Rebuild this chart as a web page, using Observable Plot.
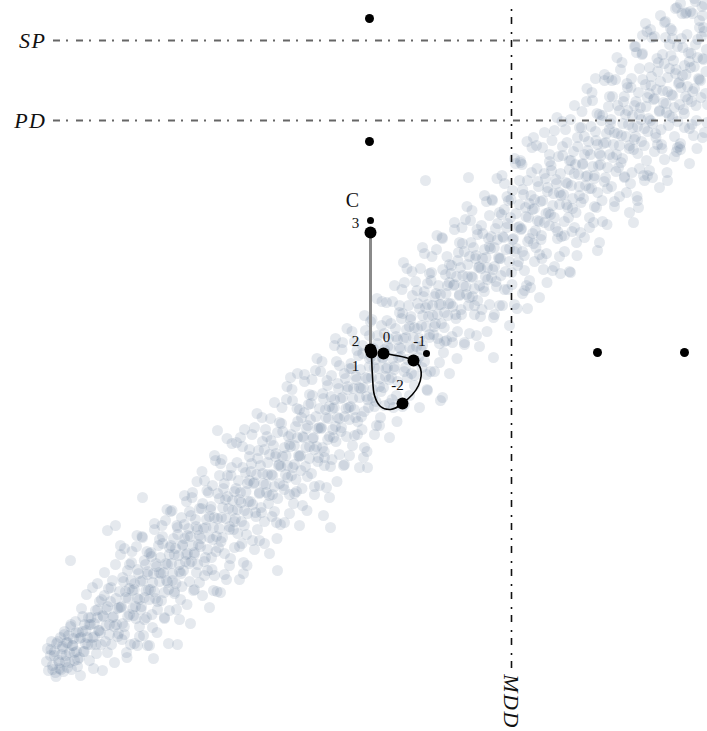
<!DOCTYPE html>
<html>
<head>
<meta charset="utf-8">
<script src="https://cdn.jsdelivr.net/npm/d3@7"></script>
<script src="https://cdn.jsdelivr.net/npm/@observablehq/plot@0.6"></script>
<style>
  html, body { margin: 0; padding: 0; background: #fff; }
  #chart svg { display: block; }
</style>
</head>
<body>
<div id="chart"></div>
<script>
// Population cloud: "x,y" pairs (x = first score, y = second score)
const cloudPoints = `
4.6,7.0 4.7,8.3 4.8,6.1 5.0,7.6 5.1,9.0 5.2,6.6 5.4,8.0 5.5,5.9 5.6,8.8 5.8,7.1 5.9,6.3
6.0,9.4 6.1,7.7 6.2,8.5 6.3,6.0 6.4,10.0 6.5,7.0 6.6,8.9 6.7,6.4 6.8,9.6 6.9,7.9
7.0,10.5 7.1,6.2 7.2,8.6 7.3,9.3 7.4,7.1 7.5,11.0 7.6,8.0 7.7,6.5 7.8,9.9 7.9,7.4
8.0,5.6 8.1,12.3 8.2,10.0 8.3,8.0 8.4,10.7 8.5,8.8 8.6,13.7 8.7,9.4 8.8,11.4 8.9,7.1
9.0,10.7 9.1,8.7 9.2,14.4 9.3,6.3 9.4,9.5 9.5,12.1 9.6,7.8 9.7,11.4 9.8,10.1 9.9,13.0
10.0,9.9 10.1,13.2 10.2,6.1 10.3,11.5 10.4,15.9 10.5,9.0 10.6,12.2 10.7,7.9 10.8,14.3 10.9,10.7
11.0,13.0 11.1,8.7 11.2,15.1 11.3,11.5 11.4,6.9 11.5,16.7 11.6,10.7 11.7,12.3 11.8,9.8 11.9,14.0
12.0,17.7 12.1,12.5 12.2,10.8 12.3,15.0 12.4,9.7 12.5,14.0 12.6,7.9 12.7,16.1 12.8,13.3 12.9,11.7
13.0,8.7 13.1,16.9 13.2,14.1 13.3,11.6 13.4,14.8 13.5,12.5 13.6,18.5 13.7,13.3 13.8,15.8 13.9,10.5
14.0,15.0 14.1,12.5 14.2,19.4 14.3,9.6 14.4,13.4 14.5,16.7 14.6,11.4 14.7,15.7 14.8,14.2 14.9,17.8
15.0,14.2 15.1,17.5 15.2,10.4 15.3,15.8 15.4,20.2 15.5,13.3 15.6,16.5 15.7,12.2 15.8,18.6 15.9,15.0
16.0,17.4 16.1,13.1 16.2,19.5 16.3,15.9 16.4,11.3 16.5,21.1 16.6,15.1 16.7,16.7 16.8,14.2 16.9,18.4
17.0,22.0 17.1,16.8 17.2,15.1 17.3,19.3 17.4,14.0 17.5,18.3 17.6,12.2 17.7,20.4 17.8,17.6 17.9,16.0
18.0,13.2 18.1,21.4 18.2,18.6 18.3,16.1 18.4,19.3 18.5,17.0 18.6,23.0 18.7,17.8 18.8,20.3 18.9,15.0
19.0,19.5 19.1,17.0 19.2,23.9 19.3,14.1 19.4,17.9 19.5,21.2 19.6,15.9 19.7,20.2 19.8,18.7 19.9,22.3
20.0,18.5 20.1,22.3 20.2,13.6 20.3,20.3 20.4,25.1 20.5,17.4 20.6,21.2 20.7,16.1 20.8,23.9 20.9,19.4
21.0,22.2 21.1,17.4 21.2,24.6 21.3,20.4 21.4,15.6 21.5,27.1 21.6,19.5 21.7,21.3 21.8,18.4 21.9,23.3
22.0,26.8 22.1,21.4 22.2,19.4 22.3,24.3 22.4,17.8 22.5,23.2 22.6,15.2 22.7,25.6 22.8,22.3 22.9,20.5
23.0,17.3 23.1,26.4 23.2,23.1 23.3,20.2 23.4,24.0 23.5,21.3 23.6,28.9 23.7,22.2 23.8,25.1 23.9,18.5
24.0,23.9 24.1,21.0 24.2,28.5 24.3,16.9 24.4,22.1 24.5,25.9 24.6,19.7 24.7,24.8 24.8,23.0 24.9,27.5
25.0,23.0 25.1,26.8 25.2,19.1 25.3,24.8 25.4,30.4 25.5,21.9 25.6,25.7 25.7,20.2 25.8,28.1 25.9,23.9
26.0,26.6 26.1,21.9 26.2,29.0 26.3,24.8 26.4,18.8 26.5,30.2 26.6,23.9 26.7,25.7 26.8,22.8 26.9,27.7
27.0,31.3 27.1,25.7 27.2,23.7 27.3,28.6 27.4,22.0 27.5,27.5 27.6,20.9 27.7,29.9 27.8,26.6 27.9,24.8
28.0,20.7 28.1,30.8 28.2,27.5 28.3,24.6 28.4,28.4 28.5,25.7 28.6,33.2 28.7,26.6 28.8,29.5 28.9,23.7
29.0,28.5 29.1,25.6 29.2,33.1 29.3,22.8 29.4,26.7 29.5,30.5 29.6,24.0 29.7,29.4 29.8,27.6 29.9,32.2
30.0,27.6 30.1,31.4 30.2,22.6 30.3,29.4 30.4,35.0 30.5,26.5 30.6,30.3 30.7,25.5 30.8,32.7 30.9,28.5
31.0,31.2 31.1,25.8 31.2,33.6 31.3,29.4 31.4,24.5 31.5,36.1 31.6,28.5 31.7,30.3 31.8,27.4 31.9,32.3
32.0,36.0 32.1,30.4 32.2,28.4 32.3,33.3 32.4,27.4 32.5,32.2 32.6,24.4 32.7,34.6 32.8,31.3 32.9,29.5
33.0,26.5 33.1,35.6 33.2,32.3 33.3,29.4 33.4,33.2 33.5,30.5 33.6,37.0 33.7,31.4 33.8,34.3 33.9,27.7
34.0,33.3 34.1,30.4 34.2,38.9 34.3,26.6 34.4,31.5 34.5,35.3 34.6,29.5 34.7,34.2 34.8,32.4 34.9,36.3
35.0,32.5 35.1,36.3 35.2,28.6 35.3,34.3 35.4,39.0 35.5,31.4 35.6,35.2 35.7,29.7 35.8,37.6 35.9,33.4
36.0,36.2 36.1,31.5 36.2,38.6 36.3,34.4 36.4,28.4 36.5,40.1 36.6,33.5 36.7,35.3 36.8,32.4 36.9,37.3
37.0,41.0 37.1,35.4 37.2,33.4 37.3,38.3 37.4,32.5 37.5,37.2 37.6,30.6 37.7,39.6 37.8,36.3 37.9,34.5
38.0,31.4 38.1,40.6 38.2,37.3 38.3,34.4 38.4,38.2 38.5,35.5 38.6,42.9 38.7,36.4 38.8,39.3 38.9,32.8
39.0,38.3 39.1,35.4 39.2,43.0 39.3,32.4 39.4,36.5 39.5,40.3 39.6,33.6 39.7,39.2 39.8,37.4 39.9,41.9
40.0,37.5 40.1,41.3 40.2,32.5 40.3,39.3 40.4,44.9 40.5,36.4 40.6,40.2 40.7,35.4 40.8,42.6 40.9,38.4
41.0,41.2 41.1,35.8 41.2,43.6 41.3,39.4 41.4,34.6 41.5,45.0 41.6,38.5 41.7,40.3 41.8,37.4 41.9,42.3
42.0,46.3 42.1,40.6 42.2,38.6 42.3,43.5 42.4,37.0 42.5,42.4 42.6,35.7 42.7,44.8 42.8,41.5 42.9,39.7
43.0,36.0 43.1,45.9 43.2,42.6 43.3,39.7 43.4,43.5 43.5,40.8 43.6,48.2 43.7,41.7 43.8,44.6 43.9,38.8
44.0,43.7 44.1,40.8 44.2,49.3 44.3,37.9 44.4,41.9 44.5,45.7 44.6,39.1 44.7,44.6 44.8,42.8 44.9,46.7
45.0,42.8 45.1,46.6 45.2,38.9 45.3,44.6 45.4,50.2 45.5,41.7 45.6,45.5 45.7,40.0 45.8,47.9 45.9,43.7
46.0,46.4 46.1,41.7 46.2,48.8 46.3,44.6 46.4,38.7 46.5,51.2 46.6,43.7 46.7,45.5 46.8,42.6 46.9,47.5
47.0,51.1 47.1,45.5 47.2,43.5 47.3,48.4 47.4,42.6 47.5,47.3 47.6,39.6 47.7,49.7 47.8,46.4 47.9,44.6
48.0,41.5 48.1,50.6 48.2,47.3 48.3,44.4 48.4,48.2 48.5,45.5 48.6,53.0 48.7,46.4 48.8,49.3 48.9,42.7
49.0,48.3 49.1,45.4 49.2,53.1 49.3,41.4 49.4,46.5 49.5,50.3 49.6,44.5 49.7,49.2 49.8,47.4 49.9,51.9
50.0,47.3 50.1,51.7 50.2,42.6 50.3,49.4 50.4,54.8 50.5,46.0 50.6,50.4 50.7,44.2 50.8,53.1 50.9,48.3
51.0,51.4 51.1,45.9 51.2,54.1 51.3,49.3 51.4,42.7 51.5,56.8 51.6,48.3 51.7,50.4 51.8,47.0 51.9,52.7
52.0,56.9 52.1,50.3 52.2,48.0 52.3,53.7 52.4,46.1 52.5,52.4 52.6,44.6 52.7,55.1 52.8,51.4 52.9,49.3
53.0,44.4 53.1,55.9 53.2,52.2 53.3,48.8 53.4,53.2 53.5,50.1 53.6,58.6 53.7,51.1 53.8,54.5 53.9,47.7
54.0,53.0 54.1,49.6 54.2,58.4 54.3,46.2 54.4,50.9 54.5,55.3 54.6,47.8 54.7,54.0 54.8,51.9 54.9,57.0
55.0,51.7 55.1,56.1 55.2,46.1 55.3,53.8 55.4,60.1 55.5,50.4 55.6,54.8 55.7,49.3 55.8,57.5 55.9,52.7
56.0,55.8 56.1,49.5 56.2,58.5 56.3,53.7 56.4,48.0 56.5,60.2 56.6,52.7 56.7,54.8 56.8,51.4 56.9,57.1
57.0,61.2 57.1,54.6 57.2,52.3 57.3,58.0 57.4,50.4 57.5,56.7 57.6,48.9 57.7,59.4 57.8,55.7 57.9,53.6
58.0,49.9 58.1,60.4 58.2,56.7 58.3,53.3 58.4,57.7 58.5,54.6 58.6,63.0 58.7,55.6 58.8,59.0 58.9,51.4
59.0,57.7 59.1,54.3 59.2,63.1 59.3,50.9 59.4,55.6 59.5,60.0 59.6,52.4 59.7,58.7 59.8,56.6 59.9,61.7
60.0,56.7 60.1,61.1 60.2,51.0 60.3,58.8 60.4,65.1 60.5,55.4 60.6,59.8 60.7,54.3 60.8,62.5 60.9,57.7
61.0,60.8 61.1,54.5 61.2,63.5 61.3,58.7 61.4,53.0 61.5,65.2 61.6,57.7 61.7,59.8 61.8,56.4 61.9,62.1
62.0,66.2 62.1,59.6 62.2,57.3 62.3,63.0 62.4,55.4 62.5,61.7 62.6,53.9 62.7,64.4 62.8,60.7 62.9,58.6
63.0,54.8 63.1,65.3 63.2,61.6 63.3,58.2 63.4,62.6 63.5,59.5 63.6,67.9 63.7,60.5 63.8,63.9 63.9,56.3
64.0,62.4 64.1,59.0 64.2,67.8 64.3,55.6 64.4,60.3 64.5,64.7 64.6,57.1 64.7,63.4 64.8,61.3 64.9,66.4
65.0,61.1 65.1,65.5 65.2,55.4 65.3,63.2 65.4,69.5 65.5,59.8 65.6,64.2 65.7,58.7 65.8,66.9 65.9,62.1
66.0,65.0 66.1,58.7 66.2,67.7 66.3,62.9 66.4,57.2 66.5,69.4 66.6,61.9 66.7,64.0 66.8,60.6 66.9,66.3
67.0,70.3 67.1,63.7 67.2,61.4 67.3,67.1 67.4,59.5 67.5,65.8 67.6,58.0 67.7,68.5 67.8,64.8 67.9,62.7
68.0,58.8 68.1,69.3 68.2,65.6 68.3,62.2 68.4,66.6 68.5,63.5 68.6,71.9 68.7,64.5 68.8,67.9 68.9,60.3
69.0,66.4 69.1,63.0 69.2,71.8 69.3,59.6 69.4,64.3 69.5,68.7 69.6,61.1 69.7,67.4 69.8,65.3 69.9,70.4
70.0,65.1 70.1,69.5 70.2,59.4 70.3,67.2 70.4,72.7 70.5,63.8 70.6,68.2 70.7,62.7
64.5,70.8 66.0,71.6 68.0,72.8 69.5,73.0
`;

// Denser core of the band
const corePoints = `
5.05,8.2 5.22,6.2 5.38,7.6 5.55,5.5 5.72,9.0 5.88,6.9
6.05,6.2 6.22,8.3 6.38,9.7 6.55,7.6 6.72,8.9 6.88,6.9
7.05,10.7 7.22,8.6 7.38,7.9 7.55,9.9 7.72,7.2 7.88,9.3
8.05,9.4 8.22,11.5 8.38,8.0 8.55,10.1 8.72,8.7 8.88,10.7
9.05,11.4 9.22,9.4 9.38,10.8 9.55,8.7 9.72,12.2 9.88,10.1
10.05,8.7 10.22,11.6 10.38,13.6 10.55,10.6 10.72,12.5 10.88,9.7
11.05,14.4 11.22,11.4 11.38,10.5 11.55,13.3 11.72,9.5 11.88,12.4
12.05,12.4 12.22,15.4 12.38,10.5 12.55,13.4 12.72,11.5 12.88,14.3
13.05,15.1 13.22,12.3 13.38,14.2 13.55,11.3 13.72,16.2 13.88,13.2
14.05,12.2 14.22,15.1 14.38,17.1 14.55,14.1 14.72,16.0 14.88,13.2
15.05,17.9 15.22,14.9 15.38,14.0 15.55,16.8 15.72,13.0 15.88,15.9
16.05,15.8 16.22,18.8 16.38,13.9 16.55,16.8 16.72,14.9 16.88,17.7
17.05,18.6 17.22,15.8 17.38,17.7 17.55,14.8 17.72,19.7 17.88,16.7
18.05,15.8 18.22,18.7 18.38,20.7 18.55,17.7 18.72,19.6 18.88,16.8
19.05,21.6 19.22,18.6 19.38,17.7 19.55,20.5 19.72,16.7 19.88,19.6
20.05,19.3 20.22,22.8 20.38,17.0 20.55,20.4 20.72,18.2 20.88,21.5
21.05,22.5 21.22,19.2 21.38,21.4 21.55,18.0 21.72,23.8 21.88,20.3
22.05,19.0 22.22,22.4 22.38,24.8 22.55,21.3 22.72,23.5 22.88,20.2
23.05,25.6 23.22,22.1 23.38,21.0 23.55,24.3 23.72,19.8 23.88,23.2
24.05,22.9 24.22,26.4 24.38,20.6 24.55,24.0 24.72,21.8 24.88,25.1
25.05,26.0 25.22,22.7 25.38,24.9 25.55,21.5 25.72,27.3 25.88,23.8
26.05,22.4 26.22,25.8 26.38,28.2 26.55,24.7 26.72,26.9 26.88,23.6
27.05,29.1 27.22,25.6 27.38,24.5 27.55,27.8 27.72,23.3 27.88,26.7
28.05,26.5 28.22,30.0 28.38,24.2 28.55,27.6 28.72,25.4 28.88,28.7
29.05,29.7 29.22,26.4 29.38,28.6 29.55,25.2 29.72,31.0 29.88,27.5
30.05,26.1 30.22,29.5 30.38,31.9 30.55,28.4 30.72,30.6 30.88,27.3
31.05,32.8 31.22,29.3 31.38,28.2 31.55,31.5 31.72,27.0 31.88,30.4
32.05,30.3 32.22,33.8 32.38,28.0 32.55,31.4 32.72,29.2 32.88,32.5
33.05,33.5 33.22,30.2 33.38,32.4 33.55,29.0 33.72,34.8 33.88,31.3
34.05,30.0 34.22,33.4 34.38,35.8 34.55,32.3 34.72,34.5 34.88,31.2
35.05,36.8 35.22,33.3 35.38,32.2 35.55,35.5 35.72,31.0 35.88,34.4
36.05,34.3 36.22,37.8 36.38,32.0 36.55,35.4 36.72,33.2 36.88,36.5
37.05,37.5 37.22,34.2 37.38,36.4 37.55,33.0 37.72,38.8 37.88,35.3
38.05,34.0 38.22,37.4 38.38,39.8 38.55,36.3 38.72,38.5 38.88,35.2
39.05,40.8 39.22,37.3 39.38,36.2 39.55,39.5 39.72,35.0 39.88,38.4
40.05,38.3 40.22,41.8 40.38,36.0 40.55,39.4 40.72,37.2 40.88,40.5
41.05,41.5 41.22,38.2 41.38,40.4 41.55,37.0 41.72,42.8 41.88,39.3
42.05,38.2 42.22,41.6 42.38,44.0 42.55,40.5 42.72,42.7 42.88,39.4
43.05,45.1 43.22,41.6 43.38,40.5 43.55,43.8 43.72,39.3 43.88,42.7
44.05,42.7 44.22,46.2 44.38,40.4 44.55,43.8 44.72,41.6 44.88,44.9
45.05,45.8 45.22,42.5 45.38,44.7 45.55,41.3 45.72,47.1 45.88,43.6
46.05,42.2 46.22,45.6 46.38,48.0 46.55,44.5 46.72,46.7 46.88,43.4
47.05,48.9 47.22,45.4 47.38,44.3 47.55,47.6 47.72,43.1 47.88,46.5
48.05,46.3 48.22,49.8 48.38,44.0 48.55,47.4 48.72,45.2 48.88,48.5
49.05,49.5 49.22,46.2 49.38,48.4 49.55,45.0 49.72,50.8 49.88,47.3
50.05,45.6 50.22,49.5 50.38,52.2 50.55,48.2 50.72,50.8 50.88,47.0
51.05,53.2 51.22,49.2 51.38,48.0 51.55,51.8 51.72,46.6 51.88,50.5
52.05,50.2 52.22,54.2 52.38,47.6 52.55,51.5 52.72,49.0 52.88,52.8
53.05,53.6 53.22,49.8 53.38,52.3 53.55,48.4 53.72,55.0 53.88,51.0
54.05,49.2 54.22,53.1 54.38,55.8 54.55,51.8 54.72,54.4 54.88,50.6
55.05,56.6 55.22,52.6 55.38,51.4 55.55,55.2 55.72,50.0 55.88,53.9
56.05,53.6 56.22,57.6 56.38,51.0 56.55,54.9 56.72,52.4 56.88,56.2
57.05,57.1 57.22,53.3 57.38,55.8 57.55,51.9 57.72,58.5 57.88,54.5
58.05,52.9 58.22,56.8 58.38,59.5 58.55,55.5 58.72,58.1 58.88,54.3
59.05,60.5 59.22,56.5 59.38,55.3 59.55,59.1 59.72,53.9 59.88,57.8
60.05,57.6 60.22,61.6 60.38,55.0 60.55,58.9 60.72,56.4 60.88,60.2
61.05,61.2 61.22,57.4 61.38,59.9 61.55,56.0 61.72,62.6 61.88,58.6
62.05,56.9 62.22,60.8 62.38,63.5 62.55,59.5 62.72,62.1 62.88,58.3
63.05,64.4 63.22,60.4 63.38,59.2 63.55,63.0 63.72,57.8 63.88,61.7
64.05,61.2 64.22,65.2 64.38,58.6 64.55,62.5 64.72,60.0 64.88,63.8
65.05,64.6 65.22,60.8 65.38,63.3 65.55,59.4 65.72,66.0 65.88,62.0
66.05,60.2 66.22,64.1 66.38,66.8 66.55,62.8 66.72,65.4 66.88,61.6
67.05,67.6 67.22,63.6 67.38,62.4 67.55,66.2 67.72,61.0 67.88,64.9
68.05,64.4 68.22,68.4 68.38,61.8 68.55,65.7 68.72,63.2 68.88,67.0
69.05,67.8 69.22,64.0 69.38,66.5 69.55,62.6 69.72,69.2 69.88,65.2
70.05,63.4 70.22,67.3 70.38,70.0 70.55,66.0
63.5,68.5 65.0,70.2 66.5,71.0 67.2,69.3 69.0,72.0 70.3,70.4 64.2,69.6
`;

// Fringe of the band, above and below the core
const fringePoints = `
12.15,9.2 12.4,18.3 12.65,7.4 12.9,16.7
13.15,18.0 13.4,8.8 13.65,19.6 13.9,9.5
14.15,19.5 14.4,11.2 14.65,18.0 14.9,8.6
15.15,11.7 15.4,20.8 15.65,9.9 15.9,19.2
16.15,20.6 16.4,11.4 16.65,22.2 16.9,12.1
17.15,22.1 17.4,13.8 17.65,20.6 17.9,11.2
18.15,14.5 18.4,23.6 18.65,12.7 18.9,22.0
19.15,23.4 19.4,14.2 19.65,25.0 19.9,14.9
20.15,26.0 20.4,15.6 20.65,24.1 20.9,12.4
21.15,16.2 21.4,27.6 21.65,14.0 21.9,25.6
22.15,27.2 22.4,15.7 22.65,29.3 22.9,16.6
23.15,28.8 23.4,18.4 23.65,26.9 23.9,15.2
24.15,18.8 24.4,30.2 24.65,16.6 24.9,28.2
25.15,29.7 25.4,18.2 25.65,31.8 25.9,19.1
26.15,31.4 26.4,21.0 26.65,29.5 26.9,17.8
27.15,21.5 27.4,32.9 27.65,19.3 27.9,30.9
28.15,32.4 28.4,20.9 28.65,34.5 28.9,21.8
29.15,34.2 29.4,23.8 29.65,32.3 29.9,20.6
30.15,24.3 30.4,35.7 30.65,22.1 30.9,33.7
31.15,35.2 31.4,23.7 31.65,37.3 31.9,24.6
32.15,37.0 32.4,26.6 32.65,35.1 32.9,23.4
33.15,27.2 33.4,38.6 33.65,25.0 33.9,36.6
34.15,38.2 34.4,26.7 34.65,40.3 34.9,27.6
35.15,40.0 35.4,29.6 35.65,38.1 35.9,26.4
36.15,30.2 36.4,41.6 36.65,28.0 36.9,39.6
37.15,41.2 37.4,29.7 37.65,43.3 37.9,30.6
38.15,43.0 38.4,32.6 38.65,41.1 38.9,29.4
39.15,33.2 39.4,44.6 39.65,31.0 39.9,42.6
40.15,44.2 40.4,32.7 40.65,46.3 40.9,33.6
41.15,46.0 41.4,35.6 41.65,44.1 41.9,32.4
42.15,36.4 42.4,47.8 42.65,34.2 42.9,45.8
43.15,47.5 43.4,36.0 43.65,49.6 43.9,36.9
44.15,49.4 44.4,39.0 44.65,47.5 44.9,35.8
45.15,39.5 45.4,50.9 45.65,37.3 45.9,48.9
46.15,50.4 46.4,38.9 46.65,52.5 46.9,39.8
47.15,52.1 47.4,41.7 47.65,50.2 47.9,38.5
48.15,42.2 48.4,53.6 48.65,40.0 48.9,51.6
49.15,53.2 49.4,41.7 49.65,55.3 49.9,42.6
50.15,55.6 50.4,44.2 50.65,53.5 50.9,40.6
51.15,44.7 51.4,57.3 51.65,42.3 51.9,55.1
52.15,56.7 52.4,44.1 52.65,59.0 52.9,45.1
53.15,58.4 53.4,47.0 53.65,56.3 53.9,43.4
54.15,47.3 54.4,59.9 54.65,44.9 54.9,57.7
55.15,59.1 55.4,46.5 55.65,61.4 55.9,47.5
56.15,61.0 56.4,49.6 56.65,58.9 56.9,46.0
57.15,50.0 57.4,62.6 57.65,47.6 57.9,60.4
58.15,62.0 58.4,49.4 58.65,64.3 58.9,50.4
59.15,63.9 59.4,52.5 59.65,61.8 59.9,48.9
60.15,53.1 60.4,65.7 60.65,50.7 60.9,63.5
61.15,65.1 61.4,52.5 61.65,67.4 61.9,53.5
62.15,66.9 62.4,55.5 62.65,64.8 62.9,51.9
63.15,55.9 63.4,68.5 63.65,53.5 63.9,66.3
64.15,67.7 64.4,55.1 64.65,70.0 64.9,56.1
65.15,69.4 65.4,58.0 65.65,67.3 65.9,54.4
66.15,58.3 66.4,70.9 66.65,55.9 66.9,68.7
67.15,70.1 67.4,57.5 67.65,72.4 67.9,58.5
68.15,71.8 68.4,60.4 68.65,69.7 68.9,56.8
69.15,60.7 69.4,73.3 69.65,58.3 69.9,71.1
70.15,72.5 70.4,59.9 70.65,60.9
`;

// Scattered individuals away from the main band
const outlierPoints = `
7.0,17.1 14.2,23.4 10.7,20.1 11.5,20.6 12.0,18.6 9.7,14.8 19.0,10.8 13.7,8.6 14.7,8.6
16.8,8.8 17.7,8.7 15.3,7.3 21.3,14.1 22.0,13.9 21.7,30.1 24.0,29.4 33.0,20.4 32.3,21.6
36.7,26.4 36.3,27.4 44.0,33.1 42.7,34.1 33.5,39.3 29.0,35.4 29.7,35.8 27.7,16.1 24.3,15.8
42.5,55.1 46.8,55.4 40.3,46.9 42.2,48.4 56.0,45.8 57.0,45.9 52.7,42.3 52.2,43.8 63.3,50.9
63.7,53.1 63.8,52.4 66.7,55.1 67.7,58.4 49.3,37.4 44.2,33.4 59.7,48.1 53.3,59.4 59.5,65.3
60.8,65.4 67.5,72.3 68.5,71.8 70.2,71.6 52.0,57.1 64.7,55.6 68.0,58.2
`;

// Cut-off levels
const thresholdNames = ["SP", "PD"];
const thresholdLevels = [69.1, 61.1];
const mddName = "MDD";
const mddLevel = 51.1;

// Reference individuals (small markers)
const markerX = [36.9, 36.9, 37.0, 42.6, 59.7, 68.4];
const markerY = [71.3, 59.0, 51.1, 37.8, 37.9, 37.9];
const markerR = [4.5, 4.5, 3.5, 3.5, 4.5, 4.5];

// Trajectory C, one step per time point
const stepLabels = ["3", "2", "1", "0", "-1", "-2"];
const stepX = [37.0, 37.0, 37.1, 38.3, 41.3, 40.2];
const stepY = [49.9, 38.2, 37.9, 37.8, 37.1, 32.8];
const stepLabelX = [35.5, 35.5, 35.5, 38.6, 41.9, 39.7];
const stepLabelY = [50.8, 39.0, 36.5, 39.4, 39.0, 34.6];

// Path of trajectory C from step 0 around the loop back to step 1
const loopX = [38.3, 41.3, 42.0, 41.8, 40.2, 39.0, 38.0, 37.4, 37.2, 37.1];
const loopY = [37.8, 37.1, 36.3, 34.6, 32.8, 32.2, 32.5, 33.6, 35.5, 37.9];

const trajectoryName = "C";
const trajectoryNameX = 35.2;
const trajectoryNameY = 53.1;

const parsePairs = s => s.trim().split(/\s+/).map(p => {
  const [x, y] = p.split(",").map(Number);
  return {x, y};
});
const cloud = [cloudPoints, corePoints, fringePoints, outlierPoints].flatMap(parsePairs);
const markers = markerX.map((x, i) => ({x, y: markerY[i], r: markerR[i]}));
const steps = stepLabels.map((label, i) => ({
  label, x: stepX[i], y: stepY[i], lx: stepLabelX[i], ly: stepLabelY[i]
}));
const loop = loopX.map((x, i) => ({x, y: loopY[i]}));
const riseSegment = steps.slice(0, 2);

const dash = "7,6,2,8";

const chart = Plot.plot({
  width: 707,
  height: 731,
  margin: 0,
  x: {domain: [0, 70.7], axis: null},
  y: {domain: [0, 73.1], axis: null},
  r: {type: "identity"},
  style: {fontFamily: "'Liberation Serif', 'DejaVu Serif', serif", background: "#fff", overflow: "hidden"},
  marks: [
    Plot.dot(cloud, {x: "x", y: "y", r: 5.5, fill: "#5f7898", fillOpacity: 0.16, stroke: "none", className: "cloud"}),
    Plot.ruleY(thresholdLevels, {x1: 5.3, x2: 70.7, stroke: "#666", strokeWidth: 2, strokeDasharray: dash}),
    Plot.ruleX([mddLevel], {y1: 6.3, y2: 72.3, stroke: "#111", strokeWidth: 1.6, strokeDasharray: dash}),
    Plot.text(thresholdNames, {x: 4.6, y: thresholdLevels, text: d => d, textAnchor: "end",
      fontStyle: "italic", fontSize: 22, fill: "#111", className: "cutoff-label"}),
    Plot.text([mddName], {x: mddLevel, y: 3.0, text: d => d, rotate: 90,
      fontStyle: "italic", fontSize: 22, fill: "#111", className: "cutoff-label"}),
    Plot.line(loop, {x: "x", y: "y", curve: "catmull-rom", stroke: "#000", strokeWidth: 1.6}),
    Plot.line(riseSegment, {x: "x", y: "y", stroke: "#8a8a8a", strokeWidth: 3}),
    Plot.dot(markers, {x: "x", y: "y", r: "r", fill: "#000"}),
    Plot.dot(steps, {x: "x", y: "y", r: 6, fill: "#000"}),
    Plot.text(steps, {x: "lx", y: "ly", text: "label", fontSize: 15, fill: "#111"}),
    Plot.text([trajectoryName], {x: trajectoryNameX, y: trajectoryNameY, text: d => d, fontSize: 20, fill: "#111"})
  ]
});
// soften the population dots slightly; widen the cut-off labels
d3.select(chart).selectAll("g.cloud").style("filter", "blur(0.6px)");
d3.select(chart).selectAll("g.cutoff-label text").style("letter-spacing", "1.5px");
document.getElementById("chart").appendChild(chart);
</script>
</body>
</html>
